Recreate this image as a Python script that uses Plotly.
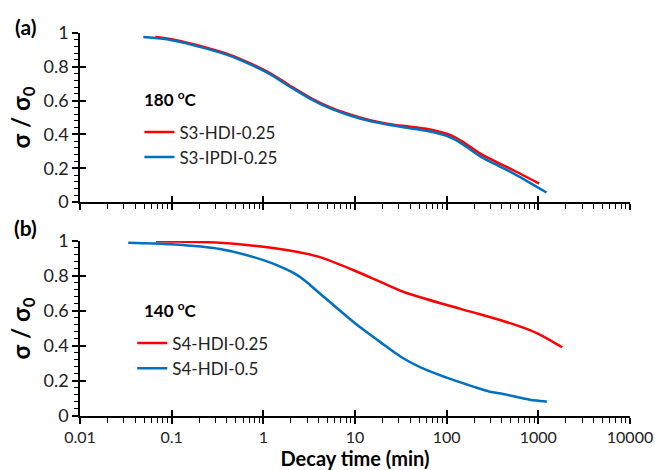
import plotly.graph_objects as go

# ---- data ----
a_hdi_x = [0.066, 0.1, 0.24, 0.432, 0.71, 1.18, 1.95, 3.22, 5.3, 8.8, 14.6, 24, 40, 65.6, 100, 125, 152, 230, 351, 528, 1020]
a_hdi_y = [0.976, 0.963, 0.913, 0.870, 0.821, 0.762, 0.688, 0.618, 0.561, 0.518, 0.484, 0.461, 0.446, 0.430, 0.404, 0.382, 0.355, 0.288, 0.237, 0.190, 0.110]
a_ipdi_x = [0.049, 0.1, 0.24, 0.432, 0.71, 1.18, 1.95, 3.22, 5.3, 8.8, 14.6, 24, 40, 65.6, 100, 125, 152, 230, 351, 528, 1230]
a_ipdi_y = [0.975, 0.957, 0.907, 0.864, 0.815, 0.756, 0.682, 0.612, 0.555, 0.512, 0.479, 0.456, 0.436, 0.418, 0.392, 0.368, 0.340, 0.272, 0.220, 0.172, 0.057]

b_hdi025_x = [0.0675, 0.1, 0.336, 1.0, 2.3, 4.14, 10, 18.6, 33.6, 100, 195, 413, 810, 1000, 1334, 1820]
b_hdi025_y = [0.998, 0.997, 0.990, 0.967, 0.939, 0.908, 0.830, 0.768, 0.710, 0.634, 0.592, 0.543, 0.491, 0.469, 0.434, 0.393]
b_hdi05_x = [0.0336, 0.1, 0.336, 1.0, 1.51, 2.3, 2.96, 4.14, 10, 18.6, 33.6, 60, 100, 195, 296, 413, 810, 1000, 1240]
b_hdi05_y = [0.990, 0.981, 0.954, 0.891, 0.855, 0.808, 0.766, 0.700, 0.530, 0.425, 0.330, 0.263, 0.219, 0.168, 0.139, 0.126, 0.093, 0.087, 0.082]

x_tickvals = [0.01, 0.1, 1, 10, 100, 1000, 10000]
x_ticktext = ["0.01", "0.1", "1", "10", "100", "1000", "10000"]
y_tickvals = [0, 0.2, 0.4, 0.6, 0.8, 1]
y_ticktext = ["0", "0.2", "0.4", "0.6", "0.8", "1"]

# minor tick positions (axis decoration)
x_minor = [k * 10.0 ** e for e in range(-2, 4) for k in range(2, 10)]
y_minor = [round(i * 0.04, 2) for i in range(26) if i % 5 != 0]

RED = "#FF0000"
BLUE = "#0070C0"
FONT = "Lato"

fig = go.Figure()
fig.add_trace(go.Scatter(x=a_hdi_x, y=a_hdi_y, mode="lines", name="S3-HDI-0.25",
                         line=dict(color=RED, width=2.5, shape="spline", smoothing=0.8), xaxis="x", yaxis="y", legend="legend"))
fig.add_trace(go.Scatter(x=a_ipdi_x, y=a_ipdi_y, mode="lines", name="S3-IPDI-0.25",
                         line=dict(color=BLUE, width=2.5, shape="spline", smoothing=0.8), xaxis="x", yaxis="y", legend="legend"))
fig.add_trace(go.Scatter(x=b_hdi025_x, y=b_hdi025_y, mode="lines", name="S4-HDI-0.25",
                         line=dict(color=RED, width=2.5, shape="spline", smoothing=0.8), xaxis="x2", yaxis="y2", legend="legend2"))
fig.add_trace(go.Scatter(x=b_hdi05_x, y=b_hdi05_y, mode="lines", name="S4-HDI-0.5",
                         line=dict(color=BLUE, width=2.5, shape="spline", smoothing=0.8), xaxis="x2", yaxis="y2", legend="legend2"))
# empty traces so the overlay tick axes get drawn
fig.add_trace(go.Scatter(x=[None], y=[None], xaxis="x3", yaxis="y3", showlegend=False, hoverinfo="skip"))
fig.add_trace(go.Scatter(x=[None], y=[None], xaxis="x4", yaxis="y4", showlegend=False, hoverinfo="skip"))

xcommon = dict(type="log", range=[-2, 4], tickvals=x_tickvals, ticktext=x_ticktext, automargin=False,
               showline=True, linecolor="black", linewidth=1.5, ticks="outside", ticklen=6,
               tickwidth=1.5, tickcolor="black", showgrid=False, zeroline=False,
               minor=dict(tickvals=x_minor, ticks="outside", ticklen=5, tickwidth=1, tickcolor="black", showgrid=False),
               tickfont=dict(family=FONT, size=16, color="#222"))
ycommon = dict(range=[0, 1], tickvals=y_tickvals, ticktext=y_ticktext, automargin=False,
               showline=True, linecolor="black", linewidth=1.5, ticks="outside", ticklen=6,
               tickwidth=1.5, tickcolor="black", showgrid=False, zeroline=False,
               minor=dict(tickvals=y_minor, ticks="outside", ticklen=4, tickwidth=1, tickcolor="black", showgrid=False),
               tickfont=dict(family=FONT, size=18, color="#222"))
# overlay axes drawing the inner half of the crossing major ticks
xin = dict(type="log", range=[-2, 4], tickvals=x_tickvals, showticklabels=False, showline=False,
           ticks="inside", ticklen=6, tickwidth=1.5, tickcolor="black", showgrid=False, zeroline=False, automargin=False)
yin = dict(range=[0, 1], tickvals=y_tickvals, showticklabels=False, showline=False,
           ticks="inside", ticklen=6, tickwidth=1.5, tickcolor="black", showgrid=False, zeroline=False, automargin=False)

ytitle = dict(text="<b>σ / σ<sub>0</sub></b>", font=dict(family=FONT, size=24, color="black"), standoff=6)

fig.update_layout(
    template="none",
    width=655, height=470,
    margin=dict(l=80, r=25, t=0, b=54),
    paper_bgcolor="white", plot_bgcolor="white",
    xaxis=dict(xcommon, anchor="y", showticklabels=False, domain=[0, 1]),
    yaxis=dict(ycommon, anchor="x", domain=[0.514, 0.921], title=ytitle),
    xaxis2=dict(xcommon, anchor="y2", domain=[0, 1],
                title=dict(text="<b>Decay time (min)</b>", font=dict(family=FONT, size=20, color="black"), standoff=5)),
    yaxis2=dict(ycommon, anchor="x2", domain=[0, 0.4207], title=ytitle),
    xaxis3=dict(xin, overlaying="x", anchor="y3", side="bottom"),
    yaxis3=dict(yin, overlaying="y", anchor="x3", side="left"),
    xaxis4=dict(xin, overlaying="x2", anchor="y4", side="bottom"),
    yaxis4=dict(yin, overlaying="y2", anchor="x4", side="left"),
    legend=dict(x=0.108, y=0.725, xanchor="left", yanchor="top", bgcolor="rgba(0,0,0,0)",
                font=dict(family=FONT, size=17, color="#222"), itemwidth=30, tracegroupgap=0),
    legend2=dict(x=0.095, y=0.2176, xanchor="left", yanchor="top", bgcolor="rgba(0,0,0,0)",
                 font=dict(family=FONT, size=17, color="#222"), itemwidth=30, tracegroupgap=0),
    showlegend=True,
    annotations=[
        dict(text="<b>(a)</b>", x=-0.1, y=0.9375, xref="paper", yref="paper", showarrow=False,
             xanchor="center", yanchor="middle", font=dict(family=FONT, size=21, color="black")),
        dict(text="<b>(b)</b>", x=-0.1, y=0.452, xref="paper", yref="paper", showarrow=False,
             xanchor="center", yanchor="middle", font=dict(family=FONT, size=21, color="black")),
        dict(text="<b>180 <sup>o</sup>C</b>", x=0.112, y=0.764, xref="paper", yref="paper", showarrow=False,
             xanchor="left", yanchor="middle", font=dict(family=FONT, size=17, color="black")),
        dict(text="<b>140 <sup>o</sup>C</b>", x=0.112, y=0.257, xref="paper", yref="paper", showarrow=False,
             xanchor="left", yanchor="middle", font=dict(family=FONT, size=17, color="black")),
    ],
)

fig.write_html("out.html")
